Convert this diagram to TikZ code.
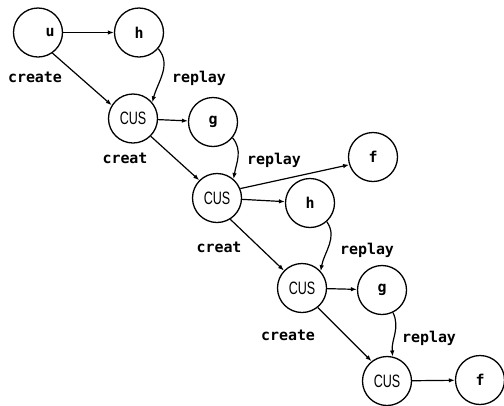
\documentclass[tikz,border=0pt]{standalone}
\usepackage{fontspec}
\setmonofont{DejaVu Sans Mono}
\setsansfont{Liberation Sans}
\usetikzlibrary{arrows.meta}
\begin{document}
\begin{tikzpicture}[x=1bp,y=-1bp,
  st/.style={circle,draw,line width=1.3bp,minimum size=49bp,inner sep=0pt,
    font=\ttfamily\bfseries\fontsize{15}{18}\selectfont},
  cus/.style={st,font=\sffamily\fontsize{18}{20}\selectfont},
  lbl/.style={font=\ttfamily\bfseries\fontsize{15}{17}\selectfont,inner sep=0pt},
  ar/.style={line width=1.2bp,-{Latex[length=6bp,width=4.5bp]}},
]
\useasboundingbox (0,0) rectangle (504,405);
\newcommand{\cusT}{\scalebox{0.7}[1]{CUS}}
% states
\node[st] (u) at (38,32.5) {\hspace*{24bp}u};
\node[st] (h1) at (139,32.5) {h};
\node[cus] (c1) at (133,118.5) {\cusT};
\node[st] (g1) at (213,122) {g};
\node[cus] (c2) at (217,198) {\cusT};
\node[st] (f1) at (373,157) {f};
\node[st] (h2) at (310,203) {h};
\node[cus] (c3) at (302,288) {\cusT};
\node[st] (g2) at (382,290) {g};
\node[cus] (c4) at (387,381) {\cusT};
\node[st] (f2) at (480,380) {f};
% labels
\node[lbl] (l1) at (35,77) {create};
\node[lbl] (l2) at (199,78) {replay};
\node[lbl] (l3) at (125,158) {creat};
\node[lbl] (l4) at (274,160) {replay};
\node[lbl] (l5) at (219,247) {creat};
\node[lbl] (l6) at (367,250) {replay};
\node[lbl] (l7) at (288,335) {create};
\node[lbl] (l8) at (429,338) {replay};
% edges
\draw[ar] (u) -- (h1);
\draw[ar] (u.-55) -- (c1.148);
\draw[ar] (h1.-40) to[out=-50,in=75] (c1.40);
\draw[ar] (c1) -- (g1);
\draw[ar] (c1.-45) -- (c2.135);
\draw[ar] (g1.-39) to[out=-50,in=80] (c2.49);
\draw[ar] (c2.22) -- (f1.198);
\draw[ar] (c2) -- (h2);
\draw[ar] (c2.-58) -- (c3.136);
\draw[ar] (h2.-48) to[out=-55,in=80] (c3.42);
\draw[ar] (c3) -- (g2);
\draw[ar] (c3.-51) -- (c4.128);
\draw[ar] (g2.-64) to[out=-65,in=95] (c4.77);
\draw[ar] (c4) -- (f2);
\end{tikzpicture}
\end{document}
